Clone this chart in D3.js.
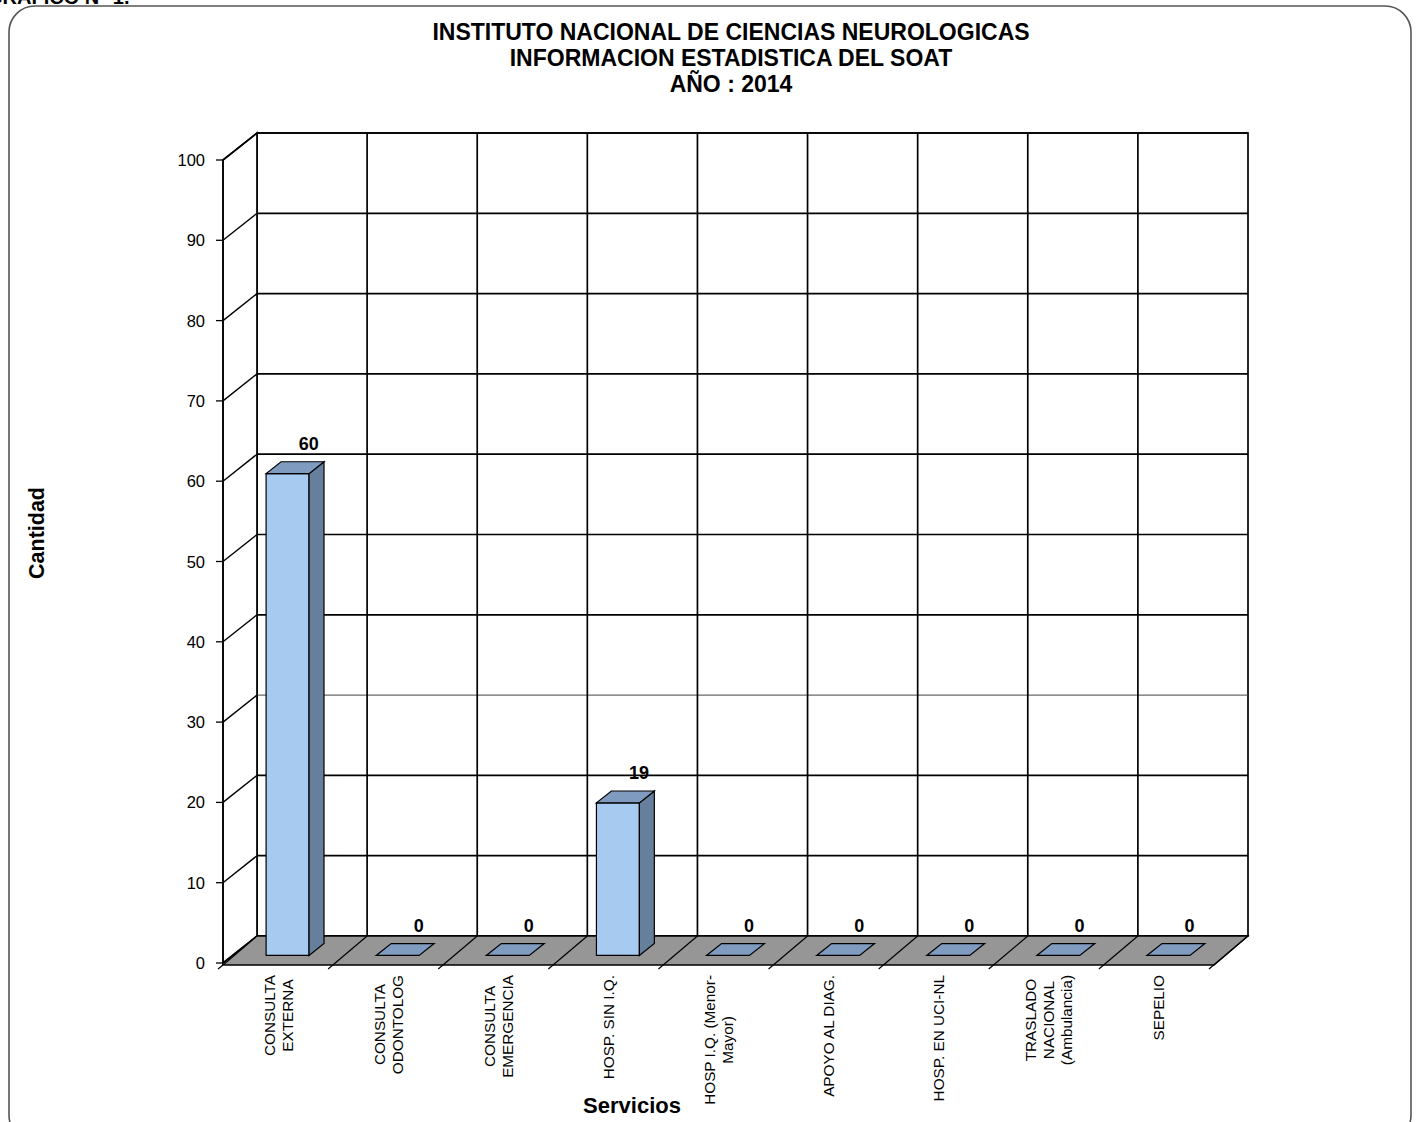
<!DOCTYPE html>
<html>
<head>
<meta charset="utf-8">
<script src="https://cdn.jsdelivr.net/npm/d3@7"></script>
<style>
  html, body { margin: 0; padding: 0; background: #fff; }
  svg { display: block; font-family: "Liberation Sans", Arial, sans-serif; }
</style>
</head>
<body>
<svg id="chart" width="1416" height="1122"></svg>
<script>
// ---- data ----
const categories = [
  ["CONSULTA", "EXTERNA"],
  ["CONSULTA", "ODONTOLOG"],
  ["CONSULTA", "EMERGENCIA"],
  ["HOSP. SIN I.Q."],
  ["HOSP I.Q. (Menor-", "Mayor)"],
  ["APOYO AL DIAG."],
  ["HOSP. EN UCI-NL"],
  ["TRASLADO", "NACIONAL", "(Ambulancia)"],
  ["SEPELIO"]
];
const values = [60, 0, 0, 19, 0, 0, 0, 0, 0];
const yTicks = [0, 10, 20, 30, 40, 50, 60, 70, 80, 90, 100];
const titleLines = ["INSTITUTO NACIONAL DE CIENCIAS NEUROLOGICAS", "INFORMACION ESTADISTICA DEL SOAT", "AÑO : 2014"];

// ---- layout ----
const svg = d3.select("#chart");
const catKeys = categories.map((c, i) => i);
const x = d3.scaleBand().domain(catKeys).range([223, 1214]).paddingInner(0).paddingOuter(0);
const y = d3.scaleLinear().domain([0, 100]).range([963, 160]);
const DX = 34, DY = -27;      // depth offset (front -> back)
const f1 = 0.28, f2 = 0.72;   // bar depth span
const barW = x.bandwidth() * 0.39;
const colFront = "#A6CAF0", colTop = "#7F9CC0", colSide = "#667F9C", colFloor = "#969696";
const lw = 1.7;

// border
svg.append("rect").attr("x", 9).attr("y", 6).attr("width", 1402).attr("height", 1135)
  .attr("rx", 26).attr("ry", 26).attr("fill", "none").attr("stroke", "#555").attr("stroke-width", 1.6);

// cut-off heading at top-left (cut off in the reference as well)
svg.append("text").attr("x", -13).attr("y", 4).attr("font-size", 20).attr("font-weight", "bold")
  .text("GRAFICO N° 1.");

// titles
titleLines.forEach((t, i) => {
  svg.append("text").attr("x", 731).attr("y", 40 + i * 26).attr("text-anchor", "middle")
    .attr("font-size", 23).attr("font-weight", "bold").text(t);
});

const x0 = x.range()[0], x1 = x.range()[1];
const yTop = y(100), yBot = y(0);

// back wall
svg.append("rect").attr("x", x0 + DX).attr("y", yTop + DY).attr("width", x1 - x0).attr("height", yBot - yTop)
  .attr("fill", "#fff").attr("stroke", "#000").attr("stroke-width", lw);
// left wall
svg.append("path").attr("d", `M${x0},${yBot}L${x0},${yTop}L${x0 + DX},${yTop + DY}L${x0 + DX},${yBot + DY}Z`)
  .attr("fill", "#fff").attr("stroke", "#000").attr("stroke-width", lw);

// gridlines back wall + left wall diagonals
yTicks.forEach(v => {
  const yy = y(v) + DY;
  const special = v === 30;
  svg.append("line").attr("x1", x0 + DX).attr("x2", x1 + DX).attr("y1", yy).attr("y2", yy)
    .attr("stroke", special ? "#444" : "#000").attr("stroke-width", special ? 1 : lw);
  svg.append("line").attr("x1", x0).attr("y1", y(v)).attr("x2", x0 + DX).attr("y2", y(v) + DY)
    .attr("stroke", "#000").attr("stroke-width", 1.4);
});
// vertical category lines on back wall
catKeys.slice(1).forEach(i => {
  const xx = x(i) + DX;
  svg.append("line").attr("x1", xx).attr("x2", xx).attr("y1", yTop + DY).attr("y2", yBot + DY)
    .attr("stroke", "#000").attr("stroke-width", lw);
});

// floor
const floorFront = yBot + 2;
svg.append("path").attr("d", `M${x0},${floorFront}L${x1},${floorFront}L${x1 + DX},${yBot + DY}L${x0 + DX},${yBot + DY}Z`)
  .attr("fill", colFloor).attr("stroke", "#000").attr("stroke-width", 1.3);
catKeys.slice(1).concat([categories.length]).forEach(i => {
  const xx = i < categories.length ? x(i) : x1;
  svg.append("line").attr("x1", xx - 5).attr("y1", floorFront + 4).attr("x2", xx + DX).attr("y2", yBot + DY)
    .attr("stroke", "#000").attr("stroke-width", 1.2);
});
svg.append("line").attr("x1", x0 - 5).attr("y1", floorFront + 4).attr("x2", x0).attr("y2", floorFront)
  .attr("stroke", "#000").attr("stroke-width", 1.2);

// front y axis
svg.append("line").attr("x1", x0).attr("x2", x0).attr("y1", yTop).attr("y2", floorFront)
  .attr("stroke", "#000").attr("stroke-width", 1.4);
yTicks.forEach(v => {
  svg.append("line").attr("x1", x0 - 7).attr("x2", x0).attr("y1", y(v)).attr("y2", y(v))
    .attr("stroke", "#000").attr("stroke-width", 1.3);
  svg.append("text").attr("x", 205).attr("y", y(v) + 6).attr("text-anchor", "end")
    .attr("font-size", 16.5).text(v);
});

// bars
values.forEach((v, i) => {
  const cx = x(i) + x.bandwidth() / 2;
  const lx = cx - barW / 2, rx = cx + barW / 2;
  const fxo = f1 * DX, fyo = f1 * DY, bxo = f2 * DX, byo = f2 * DY;
  const yv = y(v), y0 = y(0);
  const g = svg.append("g");
  if (v > 0) {
    g.append("path").attr("d", `M${lx + fxo},${yv + fyo}L${rx + fxo},${yv + fyo}L${rx + fxo},${y0 + fyo}L${lx + fxo},${y0 + fyo}Z`)
      .attr("fill", colFront).attr("stroke", "#000").attr("stroke-width", 1.2);
    g.append("path").attr("d", `M${rx + fxo},${yv + fyo}L${rx + bxo},${yv + byo}L${rx + bxo},${y0 + byo}L${rx + fxo},${y0 + fyo}Z`)
      .attr("fill", colSide).attr("stroke", "#000").attr("stroke-width", 1.2);
  }
  g.append("path").attr("d", `M${lx + fxo},${yv + fyo}L${rx + fxo},${yv + fyo}L${rx + bxo},${yv + byo}L${lx + bxo},${yv + byo}Z`)
    .attr("fill", colTop).attr("stroke", "#000").attr("stroke-width", 1.2);
  svg.append("text").attr("x", cx + DX * 0.9).attr("y", yv + byo - 12).attr("text-anchor", "middle")
    .attr("font-size", 18).attr("font-weight", "bold").text(v);
});

// x category labels (rotated, lines centered in block)
const lh = 18;
categories.forEach((lines, i) => {
  const cx = x(i) + x.bandwidth() / 2;
  const g = svg.append("g").attr("transform", `translate(${cx},975) rotate(-90)`)
    .attr("font-size", 15.3);
  const texts = lines.map(t => g.append("text").attr("text-anchor", "middle").text(t));
  const L = d3.max(texts, t => t.node().getComputedTextLength());
  const n = lines.length;
  texts.forEach((t, k) => {
    t.attr("x", -L / 2).attr("y", (k - (n - 1) / 2) * lh + 5.5);
  });
});

// axis titles
svg.append("text").attr("transform", "translate(44,533) rotate(-90)").attr("text-anchor", "middle")
  .attr("font-size", 21.5).attr("font-weight", "bold").text("Cantidad");
svg.append("text").attr("x", 632).attr("y", 1113).attr("text-anchor", "middle")
  .attr("font-size", 22).attr("font-weight", "bold").text("Servicios");
</script>
</body>
</html>
